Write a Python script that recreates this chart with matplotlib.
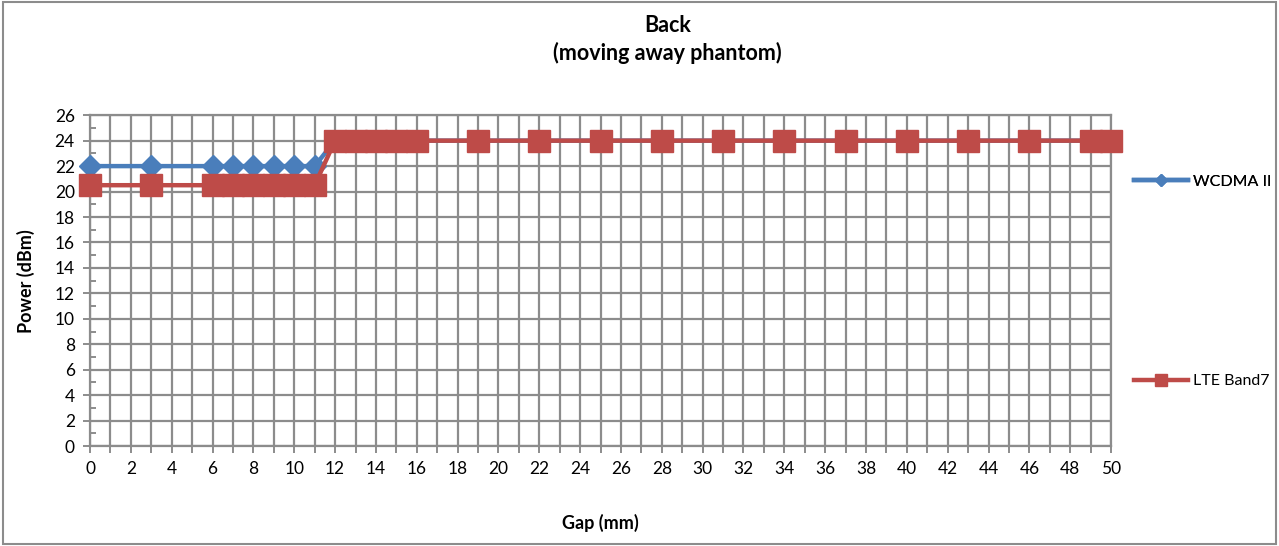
import matplotlib
matplotlib.use("Agg")
import matplotlib.pyplot as plt
from matplotlib.lines import Line2D
from matplotlib.patches import Rectangle

plt.rcParams["font.family"] = ["Lato", "DejaVu Sans"]

# data
gap_mm = [0, 3, 6, 7, 8, 9, 10, 11, 12, 13, 14, 15, 16, 19, 22, 25, 28, 31, 34, 37, 40, 43, 46, 49, 50]
wcdma_ii = [22, 22, 22, 22, 22, 22, 22, 22, 24, 24, 24, 24, 24, 24, 24, 24, 24, 24, 24, 24, 24, 24, 24, 24, 24]
lte_band7 = [20.5, 20.5, 20.5, 20.5, 20.5, 20.5, 20.5, 20.5, 24, 24, 24, 24, 24, 24, 24, 24, 24, 24, 24, 24, 24, 24, 24, 24, 24]
title_lines = ["Back", "(moving away phantom)"]

blue = "#4A7EBB"
red = "#BE4B48"
grid_col = "#8C8C8C"

fig = plt.figure(figsize=(12.79, 5.46), dpi=100)
ax = fig.add_axes([0.0704, 0.183, 0.7983, 0.606])

ax.plot(gap_mm, wcdma_ii, color=blue, lw=3.2, marker="D", ms=11.5,
        markeredgecolor=blue, zorder=3, clip_on=False)
ax.plot(gap_mm, lte_band7, color=red, lw=3.2, marker="s", ms=15.5,
        markeredgecolor=red, zorder=4, clip_on=False)

ax.set_xlim(0, 50)
ax.set_ylim(0, 26)
ax.set_xticks(range(0, 51, 2))
ax.set_xticks(range(0, 51, 1), minor=True)
ax.set_yticks(range(0, 27, 2))
ax.set_yticks(range(1, 27, 2), minor=True)

ax.grid(True, which="major", axis="y", color=grid_col, lw=1.6)
ax.grid(True, which="both", axis="x", color=grid_col, lw=1.6)
ax.set_axisbelow(True)

for s in ax.spines.values():
    s.set_color(grid_col)
    s.set_linewidth(1.6)

ax.tick_params(axis="both", which="major", labelsize=12.5, color=grid_col,
               length=5, width=1.4, pad=6)
ax.tick_params(axis="x", which="minor", color=grid_col, length=5, width=1.4)
ax.tick_params(axis="y", which="minor", direction="in", color=grid_col,
               length=4, width=1.4)

ax.set_xlabel("Gap (mm)", fontsize=13, fontweight="bold", labelpad=26)
ax.set_ylabel("Power (dBm)", fontsize=13, fontweight="bold", labelpad=14)

# two-line title, placed like the reference
fig.text(0.522, 0.954, title_lines[0], ha="center", va="center",
         fontsize=15.5, fontweight="bold")
fig.text(0.522, 0.903, title_lines[1], ha="center", va="center",
         fontsize=15.5, fontweight="bold")

h1 = Line2D([], [], color=blue, lw=3.2, marker="D", ms=6)
h2 = Line2D([], [], color=red, lw=3.2, marker="s", ms=8)
leg1 = fig.legend(handles=[h1], labels=["WCDMA II"], loc="center left",
                  bbox_to_anchor=(0.875, 0.667), frameon=False, fontsize=11.5,
                  handlelength=3.4, handletextpad=0.3)
fig.legend(handles=[h2], labels=["LTE Band7"], loc="center left",
           bbox_to_anchor=(0.875, 0.302), frameon=False, fontsize=11.5,
           handlelength=3.4, handletextpad=0.3)
fig.add_artist(leg1)

# outer chart border
fig.patches.append(Rectangle((0.002, 0.003), 0.996, 0.994, transform=fig.transFigure,
                             fill=False, edgecolor="#8C8C8C", lw=1.5))

fig.savefig("out.png", dpi=100)
